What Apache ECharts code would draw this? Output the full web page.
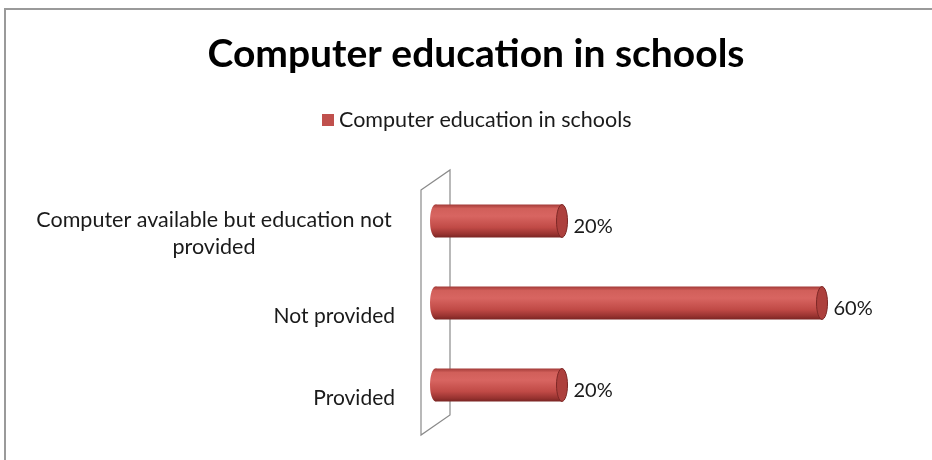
<!DOCTYPE html>
<html>
<head>
<meta charset="utf-8">
<script src="https://cdn.jsdelivr.net/npm/echarts@6/dist/echarts.min.js"></script>
<style>
  html, body { margin: 0; padding: 0; background: #fff; }
  #chart { width: 932px; height: 460px; }
</style>
</head>
<body>
<div id="chart"></div>
<script>
// data
const categories = ['Provided', 'Not provided', 'Computer available but education not\nprovided'];
const values = [20, 60, 20];
const seriesName = 'Computer education in schools';

const chart = echarts.init(document.getElementById('chart'));

// cylinder-looking bar: body + left round end + darker right cap + value label
const renderItem = (params, api) => {
  const idx = api.value(1);
  const v = api.value(0);
  const start = api.coord([0, idx]);
  const end = api.coord([v, idx]);
  const band = api.size([0, 1])[1];
  const h = band * 0.4;
  const ry = h / 2;
  const rx = 5.5;
  const cy = start[1];
  const x0 = start[0] + 3.5;
  const grad = new echarts.graphic.LinearGradient(0, 0, 0, 1, [
    { offset: 0, color: '#a33b38' },
    { offset: 0.12, color: '#d15f5a' },
    { offset: 0.35, color: '#d86561' },
    { offset: 0.7, color: '#c04a46' },
    { offset: 0.9, color: '#983330' },
    { offset: 1, color: '#7a2523' }
  ]);
  return {
    type: 'group',
    children: [
      { type: 'ellipse', shape: { cx: x0, cy: cy, rx: rx, ry: ry }, style: { fill: grad } },
      { type: 'rect', shape: { x: x0, y: cy - ry, width: end[0] - x0, height: h }, style: { fill: grad } },
      {
        type: 'ellipse',
        shape: { cx: end[0], cy: cy, rx: rx, ry: ry },
        style: { fill: '#ad403d', stroke: '#7d2826', lineWidth: 1 }
      },
      {
        type: 'text',
        style: {
          x: end[0] + rx + 6,
          y: cy + 6,
          text: v + '%',
          fill: '#1a1a1a',
          font: '20px Lato',
          verticalAlign: 'middle'
        }
      }
    ]
  };
};

chart.setOption({
  animation: false,
  backgroundColor: '#fff',
  title: {
    text: 'Computer education in schools',
    left: 471,
    textAlign: 'center',
    top: 30,
    textStyle: { fontFamily: 'Lato', fontWeight: 'bold', fontSize: 39, color: '#000' }
  },
  legend: {
    left: 317,
    top: 104,
    itemWidth: 12,
    itemHeight: 12,
    icon: 'rect',
    textStyle: { fontFamily: 'Lato', fontSize: 21.5, color: '#1a1a1a' },
    data: [{ name: seriesName, itemStyle: { color: '#c0504d' } }]
  },
  grid: {
    left: 432,
    right: 45,
    top: 180,
    bottom: 34
  },
  xAxis: {
    type: 'value',
    min: 0,
    max: 70,
    show: false
  },
  yAxis: {
    type: 'category',
    data: categories,
    axisLine: { show: false },
    axisTick: { show: false },
    axisLabel: {
      margin: 37,
      fontFamily: 'Lato',
      fontSize: 21,
      color: '#1a1a1a',
      lineHeight: 27,
      padding: [26, 0, 0, 0],
      formatter: (val) => (val.indexOf('\n') >= 0 ? '{w|' + val + '}' : val),
      rich: {
        w: { width: 362, align: 'center', fontFamily: 'Lato', fontSize: 21.5, lineHeight: 27, color: '#1a1a1a' }
      }
    }
  },
  graphic: [
    {
      type: 'rect',
      z: 0,
      shape: { x: 5, y: 9, width: 1000, height: 600 },
      style: { fill: 'none', stroke: '#9a9a9a', lineWidth: 2 }
    },
    {
      type: 'polygon',
      z: 0,
      shape: { points: [[421, 190], [450, 170], [450, 415], [421, 435]] },
      style: { fill: 'none', stroke: '#8a8a8a', lineWidth: 1.2 }
    }
  ],
  series: [
    {
      name: seriesName,
      type: 'custom',
      z: 5,
      itemStyle: { color: '#c0504d' },
      renderItem: renderItem,
      encode: { x: 0, y: 1 },
      data: values.map((v, i) => [v, i])
    }
  ]
});
</script>
</body>
</html>
